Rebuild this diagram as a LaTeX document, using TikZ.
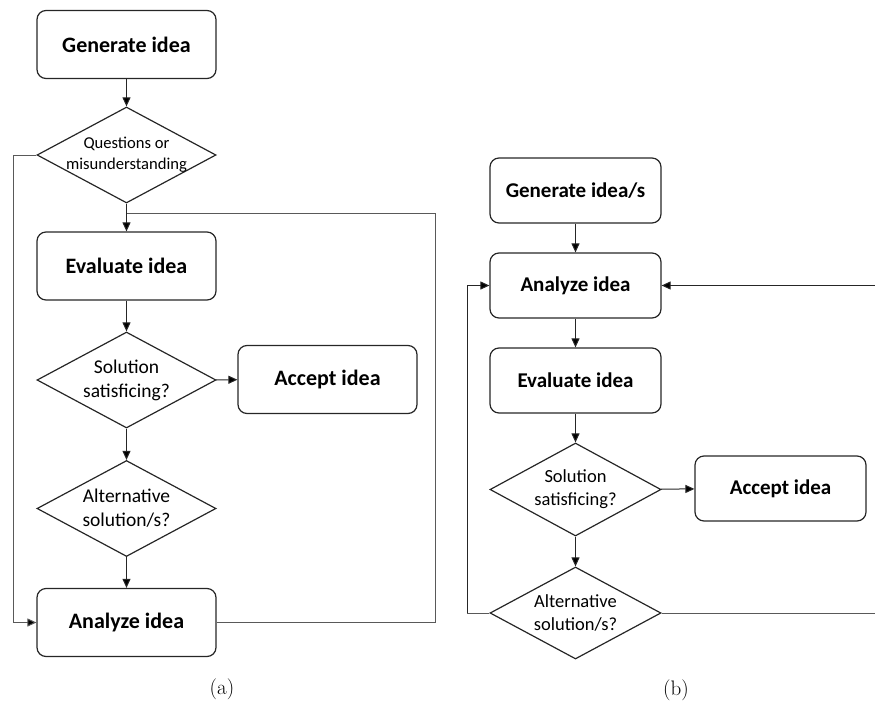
\documentclass[tikz,border=0pt]{standalone}
\usepackage{fontspec}
\newfontfamily\calib{Carlito}
\usetikzlibrary{shapes.geometric,arrows.meta}

\tikzset{
  every picture/.style={line width=0.9pt},
  stepbox/.style={draw=black!85, line width=1.2pt, rounded corners=9pt, minimum width=179pt, minimum height=68pt, inner sep=0pt, font=\calib\bfseries\fontsize{22}{26}\selectfont},
  stepboxb/.style={stepbox, minimum width=171pt, minimum height=65pt, font=\calib\bfseries\fontsize{21}{25}\selectfont},
  choice/.style={draw=black!85, line width=1.2pt, diamond, minimum width=179pt, minimum height=96pt, inner sep=0pt},
  choiceb/.style={choice, minimum width=171pt, minimum height=93pt},
  choicetext/.style={align=center, font=\calib\fontsize{19.5}{24}\selectfont},
  flow/.style={draw=black!85, line width=1pt, -{Triangle[length=9pt,width=8pt,fill=black]}},
  loopline/.style={draw=black!65, line width=1pt},
}

\begin{document}
\begin{tikzpicture}[x=1pt,y=-1pt]
	\useasboundingbox (0,0) rectangle (875,704);
	
	% (a) boxes
	\node [stepbox] (gena) at (126.5,44.5) {Generate idea};
	\node [choice, label={[choicetext, font=\calib\fontsize{16.6}{21}\selectfont]center:Questions or\\misunderstanding}] (quesa) at (126.5,155) {};
	\node [stepbox] (evala) at (126.5,266) {Evaluate idea};
	\node [choice, label={[choicetext]center:Solution\\satisficing?}] (sata) at (126.5,380) {};
	\node [stepbox] (acca) at (327.5,379.5) {Accept idea};
	\node [choice, label={[choicetext]center:Alternative\\solution/s?}] (alta) at (126.5,508.5) {};
	\node [stepbox] (anaa) at (126.5,622.5) {Analyze idea};
	\coordinate (joina) at (126.5,213);
	\coordinate (righta) at (435,213);
	\coordinate (lefta) at (13,155);
	
	% (a) arrows
	\draw [flow] (gena) -- (quesa);
	\draw [flow] (quesa) -- (evala);
	\draw [flow] (evala) -- (sata);
	\draw [flow] (sata) -- (acca);
	\draw [flow] (sata) -- (alta);
	\draw [flow] (alta) -- (anaa);
	\draw [loopline] (anaa.east) -| (righta) -- (joina);
	\draw [loopline] (quesa.west) -- (lefta);
	\draw [flow, draw=black!65] (lefta) |- (anaa.west);
	
	% (b) boxes
	\node [stepboxb] (genb) at (575.5,190.5) {Generate idea/s};
	\node [stepboxb] (anab) at (575.5,285.5) {Analyze idea};
	\node [stepboxb] (evalb) at (575.5,380.5) {Evaluate idea};
	\node [choiceb, label={[choicetext, font=\calib\fontsize{18.5}{23}\selectfont]center:Solution\\satisficing?}] (satb) at (575.5,489.5) {};
	\node [stepboxb] (accb) at (780.5,488.5) {Accept idea};
	\node [choiceb, minimum height=92pt, label={[choicetext, font=\calib\fontsize{18.5}{23}\selectfont]center:Alternative\\solution/s?}] (altb) at (575.5,613) {};
	\coordinate (leftb) at (467,613);
	\coordinate (rightb) at (875,613);
	\coordinate (backb) at (875,285.5);
	
	% (b) arrows
	\draw [flow] (genb) -- (anab);
	\draw [flow] (anab) -- (evalb);
	\draw [flow] (evalb) -- (satb);
	\draw [flow] (satb) -- (accb);
	\draw [flow] (satb) -- (altb);
	\draw [loopline] (altb.west) -- (leftb);
	\draw [flow] (leftb) |- (anab.west);
	\draw [loopline] (altb.east) -- (rightb);
	\draw [flow] (backb) -- (anab.east);
	
	% Text Node
	\node [font=\fontsize{21}{25}\selectfont] (capa) at (222,689) {(a)};
	% Text Node
	\node [font=\fontsize{21}{25}\selectfont] (capb) at (676,690) {(b)};
	
\end{tikzpicture}
\end{document}
